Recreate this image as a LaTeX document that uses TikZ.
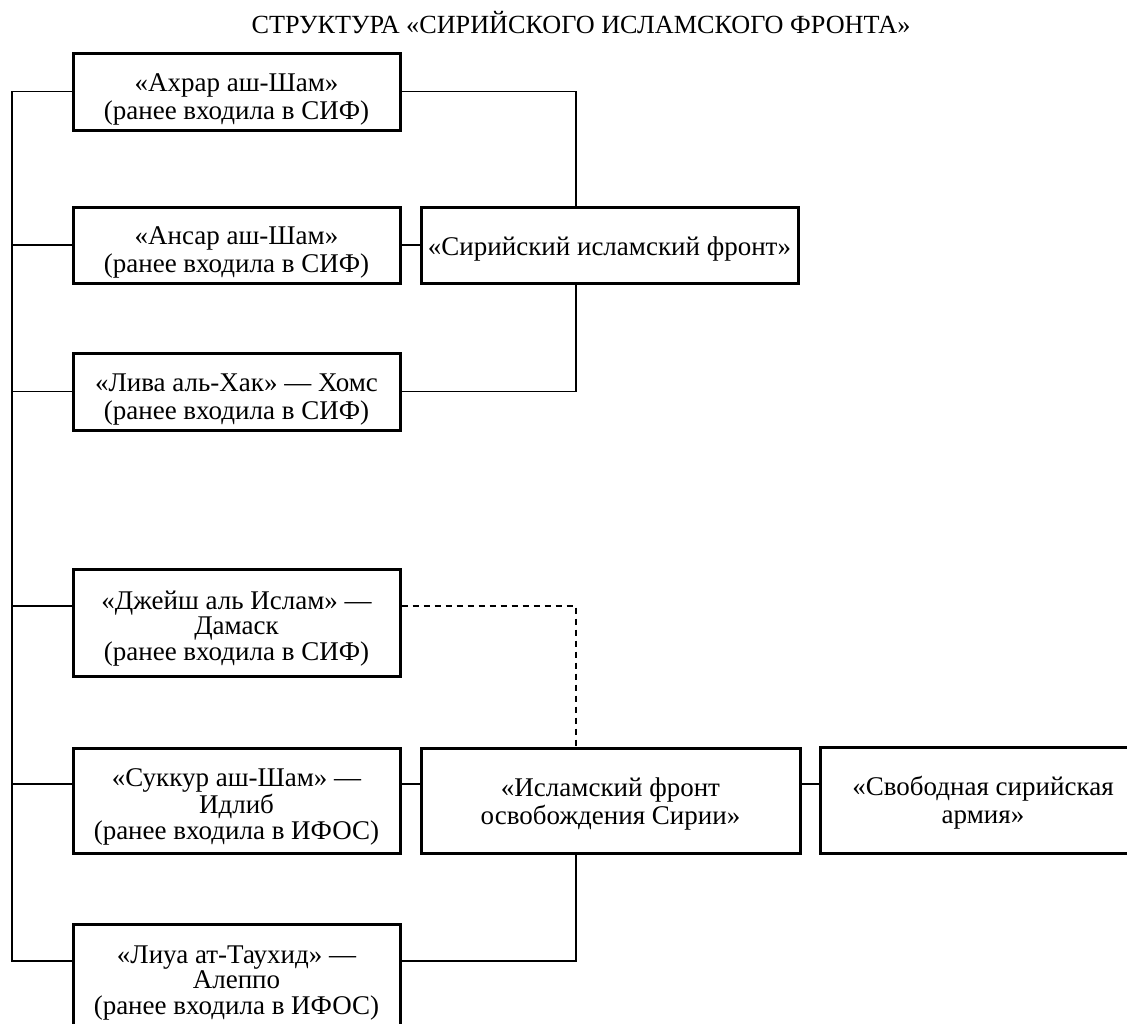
\documentclass[tikz,border=0pt]{standalone}
\usepackage{fontspec}
\setmainfont{Liberation Serif}
\newcommand\boxtext[2]{\raisebox{-#1}[\height][\depth]{\begin{tabular}{@{}c@{}}#2\end{tabular}}}
\begin{document}
\begin{tikzpicture}[x=1pt,y=-1pt,
  box/.style={draw, line width=3pt, inner sep=0pt, anchor=center,
    font=\fontsize{27}{28.3}\selectfont},
  boxthree/.style={box, font=\fontsize{27}{24.5}\selectfont},
  conn/.style={line width=1.3pt},
  dconn/.style={line width=1.3pt, dash pattern=on 6pt off 5pt}]
\useasboundingbox (0,0) rectangle (1127,1023);

\node[font=\fontsize{26.2}{28}\selectfont, anchor=base] (title) at (581,33) {СТРУКТУРА «СИРИЙСКОГО ИСЛАМСКОГО ФРОНТА»};

\node[box, minimum width=327pt, minimum height=77pt] (b1) at (236.5,91.5) {\boxtext{8pt}{«Ахрар аш-Шам»\\(ранее входила в СИФ)}};
\node[box, minimum width=327pt, minimum height=76pt] (b2) at (236.5,245) {\boxtext{8pt}{«Ансар аш-Шам»\\(ранее входила в СИФ)}};
\node[box, minimum width=377pt, minimum height=76pt] (sif) at (609.5,245) {\boxtext{5pt}{«Сирийский исламский фронт»}};
\node[box, minimum width=327pt, minimum height=77pt] (b3) at (236.5,391.5) {\boxtext{8pt}{«Лива аль-Хак» — Хомс\\(ранее входила в СИФ)}};
\node[boxthree, minimum width=327pt, minimum height=107pt] (b4) at (236.5,622.5) {\boxtext{7pt}{«Джейш аль Ислам» —\\Дамаск\\(ранее входила в СИФ)}};
\node[boxthree, minimum width=327pt, minimum height=105pt] (b5) at (236.5,800.5) {\boxtext{7pt}{«Суккур аш-Шам» —\\Идлиб\\(ранее входила в ИФОС)}};
\node[box, minimum width=379pt, minimum height=105pt] (ifos) at (610.5,800.5) {\boxtext{4pt}{«Исламский фронт\\освобождения Сирии»}};
\node[box, minimum width=326pt, minimum height=106pt] (ssa) at (983,800) {\boxtext{4pt}{«Свободная сирийская\\армия»}};
\node[boxthree, minimum width=327pt, minimum height=106pt] (b6) at (236.5,977) {\boxtext{7pt}{«Лиуа ат-Таухид» —\\Алеппо\\(ранее входила в ИФОС)}};

\coordinate (bus) at (12,91.5);
\coordinate (v) at (576,0);
\coordinate (k4) at (0,606);
\coordinate (k5) at (0,784);
\coordinate (k6) at (0,961);

% left bus
\draw[conn] (b1.west) -- (bus) -- (bus |- k6) -- (k6 -| b6.west);
\draw[conn] (b2.west) -- (b2.west -| bus);
\draw[conn] (b3.west) -- (b3.west -| bus);
\draw[conn] (k4 -| b4.west) -- (k4 -| bus);
\draw[conn] (k5 -| b5.west) -- (k5 -| bus);

% SIF group
\draw[conn] (b1.east) -| (v |- sif.north);
\draw[conn] (b2.east) -- (sif.west);
\draw[conn] (v |- sif.south) |- (b3.east);

% IFOS group
\draw[dconn] (k4 -| b4.east) -| (v |- ifos.north);
\draw[conn] (k5 -| b5.east) -- (k5 -| ifos.west);
\draw[conn] (k5 -| ifos.east) -- (k5 -| ssa.west);
\draw[conn] (v |- ifos.south) |- (k6 -| b6.east);
\end{tikzpicture}
\end{document}
